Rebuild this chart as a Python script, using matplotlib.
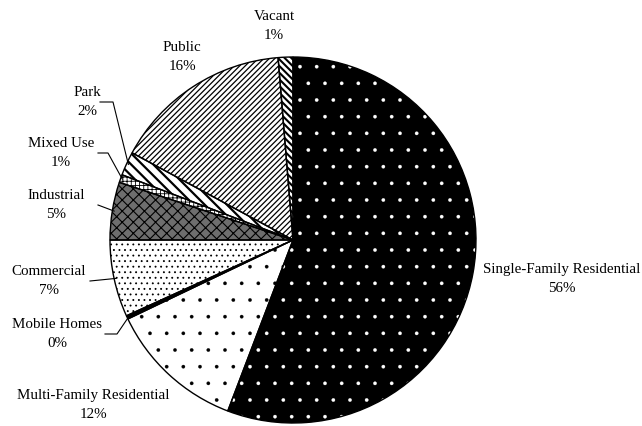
import numpy as np
import matplotlib
matplotlib.use('Agg')
import matplotlib.pyplot as plt

plt.rcParams['font.family'] = ['Liberation Serif', 'DejaVu Serif']
plt.rcParams['hatch.linewidth'] = 1.0

# land use shares (percent), clockwise from the top
categories = ['Single-Family Residential', 'Multi-Family Residential', 'Mobile Homes',
              'Commercial', 'Industrial', 'Mixed Use', 'Park', 'Public', 'Vacant']
shares = [55.8, 12.1, 0.3, 6.8, 5.1, 0.7, 2.1, 15.8, 1.3]

# fill colour, hatch, hatch colour and hatch line width for each slice
faces = ['black', 'white', 'black', 'white', '#6e6e6e', 'white', 'white', 'white', 'white']
hatches = ['.', '.', '', '...', 'xxx', '++++', '\\\\\\', '//////', '\\\\\\\\\\']
hatch_cols = ['white', 'black', 'black', 'black', 'black', 'black', 'black', 'black', 'black']
hatch_lws = [0.2, 0.2, 1.0, 0.6, 0.8, 0.6, 1.6, 0.9, 1.5]

# label block centres in pixels (from top-left) and leader line (start x, elbow x)
label_xy = [(562, 279), (93, 405), (57, 334), (49, 281), (56, 205),
            (61, 153), (87, 102), (182, 57), (274, 26)]
leaders = [None, None, (105, 117), (90, 90), (98, 98),
           (98, 108), (100, 113), None, None]

W, H = 642, 426
fig = plt.figure(figsize=(W / 100, H / 100), dpi=100)
ax = fig.add_axes([0, 0, 1, 1])

cx, cy, R = 293, 240, 183
center = (cx, H - cy)

wedges, _ = ax.pie(shares, startangle=90, counterclock=False, center=center, radius=R,
                   colors=faces, wedgeprops=dict(linewidth=0))
for w, h, c, hl in zip(wedges, hatches, hatch_cols, hatch_lws):
    w.set_hatch(h)
    w.set_edgecolor(c)
    if hasattr(w, 'set_hatch_linewidth'):
        w.set_hatch_linewidth(hl)
    else:
        w._hatch_linewidth = hl

# black outlines on top
ax.pie(shares, startangle=90, counterclock=False, center=center, radius=R,
       wedgeprops=dict(fill=False, edgecolor='black', linewidth=1))

for w, name, s, (lx, ly), ld in zip(wedges, categories, shares, label_xy, leaders):
    ax.text(lx, H - ly, f"{name}\n{round(s)}%", ha='center', va='center',
            multialignment='center', fontsize=10.8, linespacing=1.55)
    if ld is not None:
        mid = np.deg2rad((w.theta1 + w.theta2) / 2)
        axx = center[0] + 0.99 * R * np.cos(mid)
        axy = center[1] + 0.99 * R * np.sin(mid)
        ax.plot([ld[0], ld[1], axx], [H - ly, H - ly, axy], color='black', lw=0.8)

ax.set_xlim(0, W)
ax.set_ylim(0, H)
ax.set_aspect('equal')
ax.axis('off')

fig.savefig('out.png', dpi=100)
